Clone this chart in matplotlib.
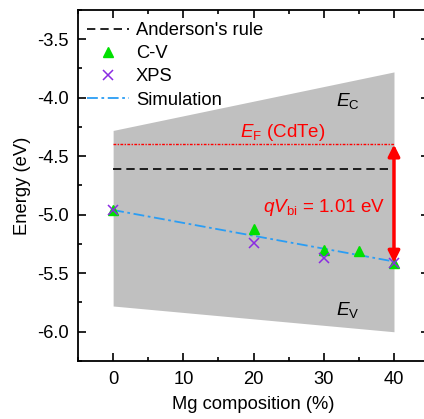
import matplotlib
matplotlib.use("Agg")
import matplotlib.pyplot as plt
from matplotlib.ticker import MultipleLocator

plt.rcParams['font.family'] = ['Liberation Sans', 'DejaVu Sans']
plt.rcParams['mathtext.fontset'] = 'custom'
plt.rcParams['mathtext.it'] = 'Liberation Sans:italic'
plt.rcParams['mathtext.rm'] = 'Liberation Sans'

# data
band_x = [0, 40]
ec_top = [-4.28, -3.78]
ev_bottom = [-5.78, -6.00]
ef_level = -4.40
anderson_level = -4.61
sim_x = [0, 40]
sim_y = [-4.96, -5.40]
cv_x = [0, 20, 30, 35, 40]
cv_y = [-4.96, -5.12, -5.30, -5.31, -5.41]
xps_x = [0, 20, 30, 40]
xps_y = [-4.96, -5.24, -5.37, -5.41]
vbi_x = 40
vbi_top = -4.40
vbi_bottom = -5.41

FS = 13.2

fig = plt.figure(figsize=(4.24, 4.19), dpi=100)
ax = fig.add_axes([0.184, 0.1384, 0.828, 0.838])

ax.fill_between(band_x, ev_bottom, ec_top, color='#c0c0c0', lw=0, zorder=1)
ax.plot(band_x, [ef_level, ef_level], color='red', lw=1.0, ls=(0, (2, 1, 1, 1)), zorder=2)
l_and, = ax.plot(band_x, [anderson_level, anderson_level], color='black', lw=1.2, ls=(0, (5, 3)), zorder=2)
l_sim, = ax.plot(sim_x, sim_y, color='#2a9df4', lw=1.3, ls=(0, (6, 2, 1.5, 2)), zorder=3)
l_cv, = ax.plot(cv_x, cv_y, ls='none', marker='^', color='#00e000', ms=6.5, zorder=4)
l_xps, = ax.plot(xps_x, xps_y, ls='none', marker='x', color='#8a2be2', ms=7, mew=1.1, zorder=5)

ax.annotate('', xy=(vbi_x, vbi_bottom), xytext=(vbi_x, vbi_top),
            arrowprops=dict(arrowstyle='<|-|>', color='red', lw=2.5,
                            mutation_scale=17, shrinkA=0, shrinkB=0), zorder=6)

ax.text(38.8, -4.94, r'$qV_{\rm bi}$ = 1.01 eV', color='red', fontsize=FS + 0.4, ha='right', va='center')
ax.text(18.0, -4.30, r'$E_{\rm F}$ (CdTe)', color='red', fontsize=FS + 0.3, ha='left', va='center')
ax.text(31.8, -4.03, r'$E_{\rm C}$', color='black', fontsize=FS + 0.5, ha='left', va='center')
ax.text(31.8, -5.81, r'$E_{\rm V}$', color='black', fontsize=FS + 0.5, ha='left', va='center')

ax.set_xlim(-5, 45)
ax.set_ylim(-6.25, -3.25)
ax.xaxis.set_major_locator(MultipleLocator(10))
ax.xaxis.set_minor_locator(MultipleLocator(5))
ax.yaxis.set_major_locator(MultipleLocator(0.5))
ax.yaxis.set_minor_locator(MultipleLocator(0.25))
ax.tick_params(which='both', direction='in', top=True, right=True, labelsize=FS, width=1.2)
ax.tick_params(which='major', length=6)
ax.tick_params(which='minor', length=3)
ax.tick_params(axis='x', pad=7)
ax.tick_params(axis='y', pad=7)
ax.set_yticks([-6.0, -5.5, -5.0, -4.5, -4.0, -3.5])
ax.set_yticklabels(['-6.0', '-5.5', '-5.0', '-4.5', '-4.0', '-3.5'])
for s in ax.spines.values():
    s.set_linewidth(1.3)

ax.set_xlabel('Mg composition (%)', fontsize=FS, labelpad=6)
ax.set_ylabel('Energy (eV)', fontsize=FS, labelpad=4)

ax.legend([l_and, l_cv, l_xps, l_sim], ["Anderson's rule", 'C-V', 'XPS', 'Simulation'],
          loc='upper left', bbox_to_anchor=(-0.005, 0.997), frameon=False, fontsize=FS,
          handlelength=2.25, handletextpad=0.4, labelspacing=0.34, borderaxespad=0.2)

fig.savefig('out.png', dpi=100)
